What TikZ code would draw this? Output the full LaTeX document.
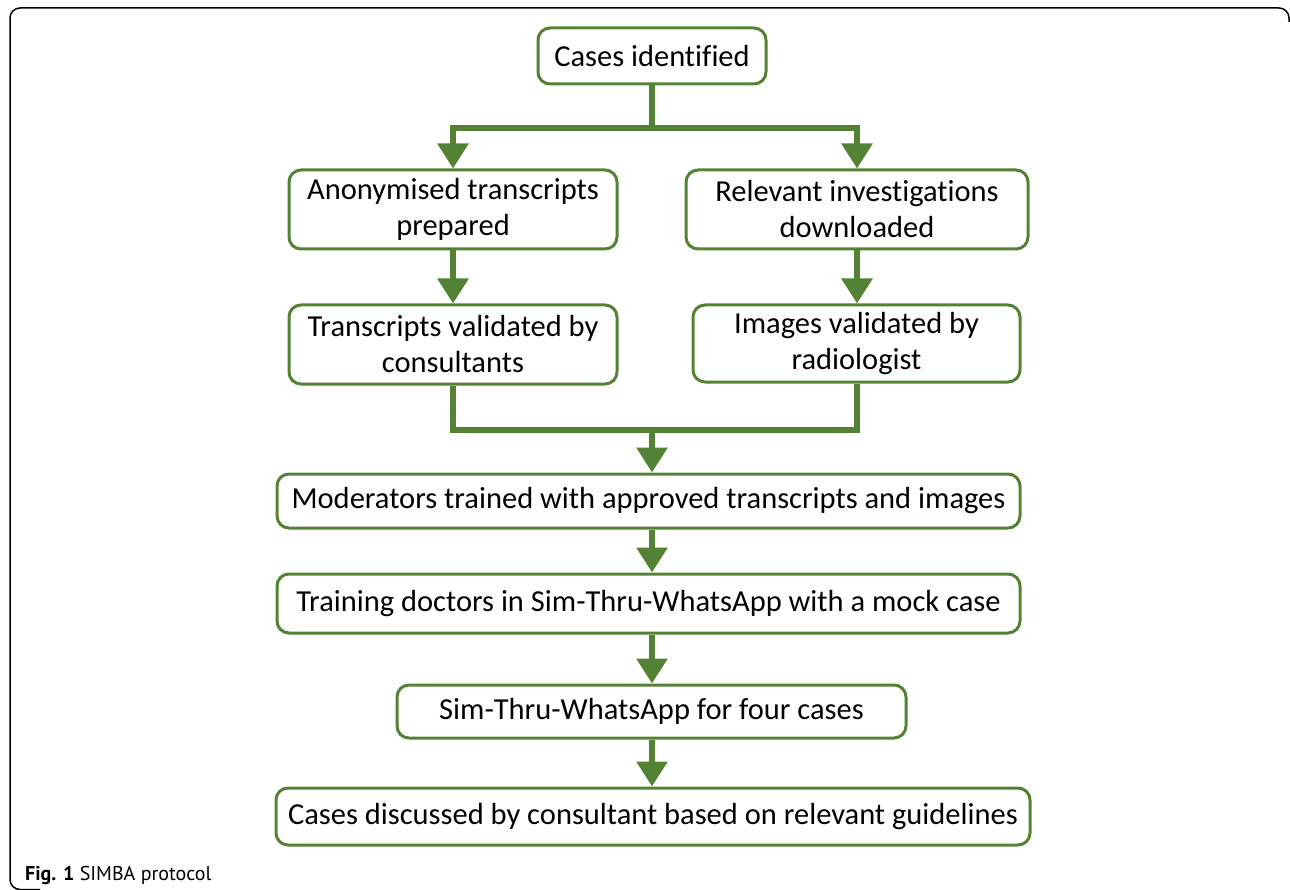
\documentclass[tikz,border=0pt]{standalone}
\usepackage{fontspec}
\setmainfont{Carlito}[Ligatures=NoCommon]
\newfontfamily\capfont{PT Sans}
\usetikzlibrary{arrows.meta}
\definecolor{boxgreen}{RGB}{84,130,53}
\tikzset{
  box/.style={draw=boxgreen, line width=3pt, rounded corners=12pt, align=center,
    font=\fontsize{30.5}{36}\selectfont, inner sep=0pt},
  conn/.style={draw=boxgreen, line width=6pt},
  arr/.style={conn, -{Triangle[width=30pt,length=25pt]}},
}
\begin{document}
\begin{tikzpicture}[x=1pt,y=-1pt]
\useasboundingbox (0,0) rectangle (1290,890);
\draw[line width=1.5pt, rounded corners=10pt] (40,889.5) -- (10,889.5) -- (10,8) -- (1289,8) -- (1289,22);

\node[box, minimum width=228pt, minimum height=56pt] (b1) at (652,56) {Cases identified};
\node[box, minimum width=328pt, minimum height=79pt] (b2) at (453,209.5) {Anonymised transcripts\\prepared};
\node[box, minimum width=342pt, minimum height=79pt] (b3) at (857,209.5) {Relevant investigations\\downloaded};
\node[box, minimum width=328pt, minimum height=79pt] (b4) at (453,344.5) {Transcripts validated by\\consultants};
\node[box, minimum width=327pt, minimum height=77pt] (b5) at (856.5,343.5) {Images validated by\\radiologist};
\node[box, minimum width=743pt, minimum height=54pt] (b6) at (648.5,501) {Moderators trained with approved transcripts and images};
\node[box, minimum width=743pt, minimum height=59pt] (b7) at (648.5,603.5) {Training doctors in Sim-Thru-WhatsApp with a mock case};
\node[box, minimum width=509pt, minimum height=53pt] (b8) at (651.5,711.5) {Sim-Thru-WhatsApp for four cases};
\node[box, minimum width=754pt, minimum height=57pt] (b9) at (653,816.5) {Cases discussed by consultant based on relevant guidelines};

\coordinate (s1) at (652,128);
\coordinate (s2) at (652,430);
\coordinate (l2) at (453,430);
\coordinate (r2) at (857,430);

\draw[conn] (b1.south) -- (s1);
\draw[arr] (s1) -| (b2.north);
\draw[arr] (s1) -| (b3.north);
\draw[arr] (b2.south) -- (b4.north);
\draw[arr] (b3.south) -- (b5.north -| b3.south);
\draw[conn, line join=miter] (b4.south) |- (s2);
\draw[conn, line join=miter] (b5.south -| r2) |- (s2);
\draw[arr] (s2) -- (b6.north -| s2);
\draw[arr] (b6.south -| s2) -- (b7.north -| s2);
\draw[arr] (b7.south -| s2) -- (b8.north -| s2);
\draw[arr] (b8.south -| s2) -- (b9.north -| s2);

\node[anchor=base west, inner sep=0pt, font=\capfont\fontsize{20}{24}\selectfont] (cap) at (25,880) {\textbf{Fig. 1} SIMBA protocol};
\end{tikzpicture}
\end{document}
